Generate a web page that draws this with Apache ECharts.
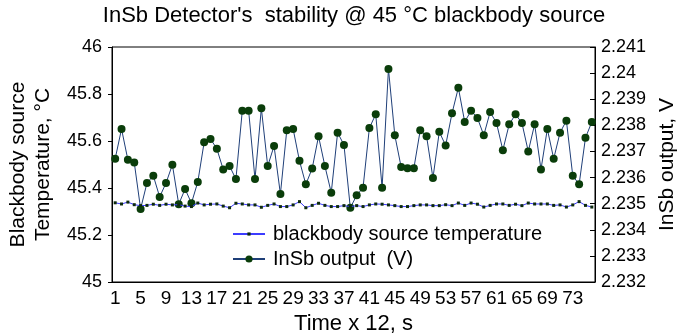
<!DOCTYPE html>
<html>
<head>
<meta charset="utf-8">
<script src="https://cdn.jsdelivr.net/npm/echarts@6/dist/echarts.min.js"></script>
<style>
  html, body { margin: 0; padding: 0; background: #fff; }
  #chart { width: 682px; height: 336px; }
</style>
</head>
<body>
<div id="chart"></div>
<script>
const samples = Array.from({ length: 76 }, (_, i) => String(i + 1))

const blackbodyTemp = [
  45.337, 45.332, 45.340, 45.329, 45.325, 45.326, 45.331, 45.326, 45.331, 45.328,
  45.329, 45.323, 45.321, 45.336, 45.328, 45.331, 45.332, 45.323, 45.316, 45.335,
  45.332, 45.328, 45.328, 45.318, 45.326, 45.332, 45.321, 45.321, 45.328, 45.342,
  45.316, 45.326, 45.335, 45.326, 45.321, 45.321, 45.325, 45.321, 45.325, 45.321,
  45.328, 45.332, 45.331, 45.328, 45.325, 45.321, 45.321, 45.325, 45.328, 45.328,
  45.325, 45.325, 45.329, 45.325, 45.336, 45.326, 45.336, 45.331, 45.319, 45.326,
  45.332, 45.332, 45.326, 45.331, 45.325, 45.336, 45.332, 45.332, 45.332, 45.326,
  45.328, 45.319, 45.328, 45.342, 45.326, 45.319
]

const insbOutput = [
  2.23672, 2.23786, 2.23668, 2.23658, 2.23480, 2.23579, 2.23607, 2.23526, 2.23579, 2.23649,
  2.23498, 2.23556, 2.23502, 2.23583, 2.23735, 2.23748, 2.23710, 2.23631, 2.23644, 2.23594,
  2.23856, 2.23856, 2.23594, 2.23865, 2.23644, 2.23721, 2.23537, 2.23781, 2.23786, 2.23664,
  2.23574, 2.23635, 2.23758, 2.23644, 2.23542, 2.23772, 2.23725, 2.23484, 2.23532, 2.23561,
  2.23790, 2.23842, 2.23561, 2.24016, 2.23762, 2.23640, 2.23636, 2.23636, 2.23781, 2.23758,
  2.23598, 2.23775, 2.23723, 2.23846, 2.23944, 2.23813, 2.23856, 2.23828, 2.23762, 2.23851,
  2.23809, 2.23705, 2.23804, 2.23842, 2.23809, 2.23700, 2.23804, 2.23631, 2.23786, 2.23672,
  2.23772, 2.23818, 2.23607, 2.23574, 2.23752, 2.23813
]

const FONT = 'Liberation Sans'

const chart = echarts.init(document.getElementById('chart'))
const option = {
  animation: false,
  textStyle: { fontFamily: FONT, color: '#000' },
  title: {
    text: "InSb Detector's  stability @ 45 °C blackbody source",
    left: 354,
    textAlign: 'center',
    top: 5,
    padding: 0,
    textStyle: { fontFamily: FONT, fontSize: 22, fontWeight: 'normal', color: '#000' }
  },
  grid: {
    left: 112,
    right: 87,
    top: 47,
    bottom: 54,
    outerBoundsMode: 'none',
    containLabel: false,
    show: true,
    borderColor: '#000',
    borderWidth: 1
  },
  legend: [
    {
      data: ['blackbody source temperature'],
      left: 232,
      top: 224,
      padding: 0,
      itemWidth: 32,
      itemHeight: 4,
      textStyle: { fontFamily: FONT, fontSize: 20, color: '#000', padding: [0, 0, 0, 3] }
    },
    {
      data: ['InSb output  (V)'],
      left: 232,
      top: 249,
      padding: 0,
      itemWidth: 32,
      itemHeight: 9,
      textStyle: { fontFamily: FONT, fontSize: 20, color: '#000', padding: [0, 0, 0, 3] }
    }
  ],
  xAxis: {
    type: 'category',
    data: samples,
    boundaryGap: true,
    name: 'Time x 12, s',
    nameLocation: 'middle',
    nameGap: 31,
    nameTextStyle: { fontFamily: FONT, fontSize: 22, color: '#000' },
    axisLine: { lineStyle: { color: '#000' } },
    axisTick: { inside: true, interval: 0, length: 5, lineStyle: { color: '#000' } },
    axisLabel: { interval: 3, fontSize: 19, color: '#000', margin: 7, fontFamily: FONT },
    splitLine: { show: false }
  },
  yAxis: [
    {
      type: 'value',
      min: 45,
      max: 46,
      interval: 0.2,
      name: 'Blackbody source\nTemperature, °C',
      nameLocation: 'middle',
      nameRotate: 90,
      nameGap: 51,
      nameTextStyle: { fontFamily: FONT, fontSize: 21, color: '#000', lineHeight: 25 },
      axisLine: { show: true, lineStyle: { color: '#000' } },
      axisTick: { show: true, length: 4, lineStyle: { color: '#000' } },
      axisLabel: { fontSize: 18, color: '#000', margin: 10, fontFamily: FONT },
      splitLine: { show: false }
    },
    {
      type: 'value',
      min: 2.232,
      max: 2.241,
      interval: 0.001,
      position: 'right',
      name: 'InSb output, V',
      nameLocation: 'middle',
      nameRotate: 90,
      nameGap: 62,
      nameTextStyle: { fontFamily: FONT, fontSize: 21, color: '#000' },
      axisLine: { show: true, lineStyle: { color: '#000' } },
      axisTick: { show: true, inside: true, length: 5, lineStyle: { color: '#000' } },
      axisLabel: { fontSize: 18, color: '#000', margin: 6, fontFamily: FONT },
      splitLine: { show: false }
    }
  ],
  series: [
    {
      name: 'blackbody source temperature',
      type: 'line',
      yAxisIndex: 0,
      data: blackbodyTemp,
      symbol: 'rect',
      symbolSize: 3,
      showAllSymbol: true,
      lineStyle: { color: '#3c3cff', width: 1 },
      itemStyle: { color: '#0d2a0d' },
      z: 3
    },
    {
      name: 'InSb output  (V)',
      type: 'line',
      yAxisIndex: 1,
      data: insbOutput,
      symbol: 'circle',
      symbolSize: 8,
      showAllSymbol: true,
      lineStyle: { color: '#1f3f78', width: 1 },
      itemStyle: { color: '#0a3d0a' },
      z: 2
    }
  ]
}
chart.setOption(option)
</script>
</body>
</html>
